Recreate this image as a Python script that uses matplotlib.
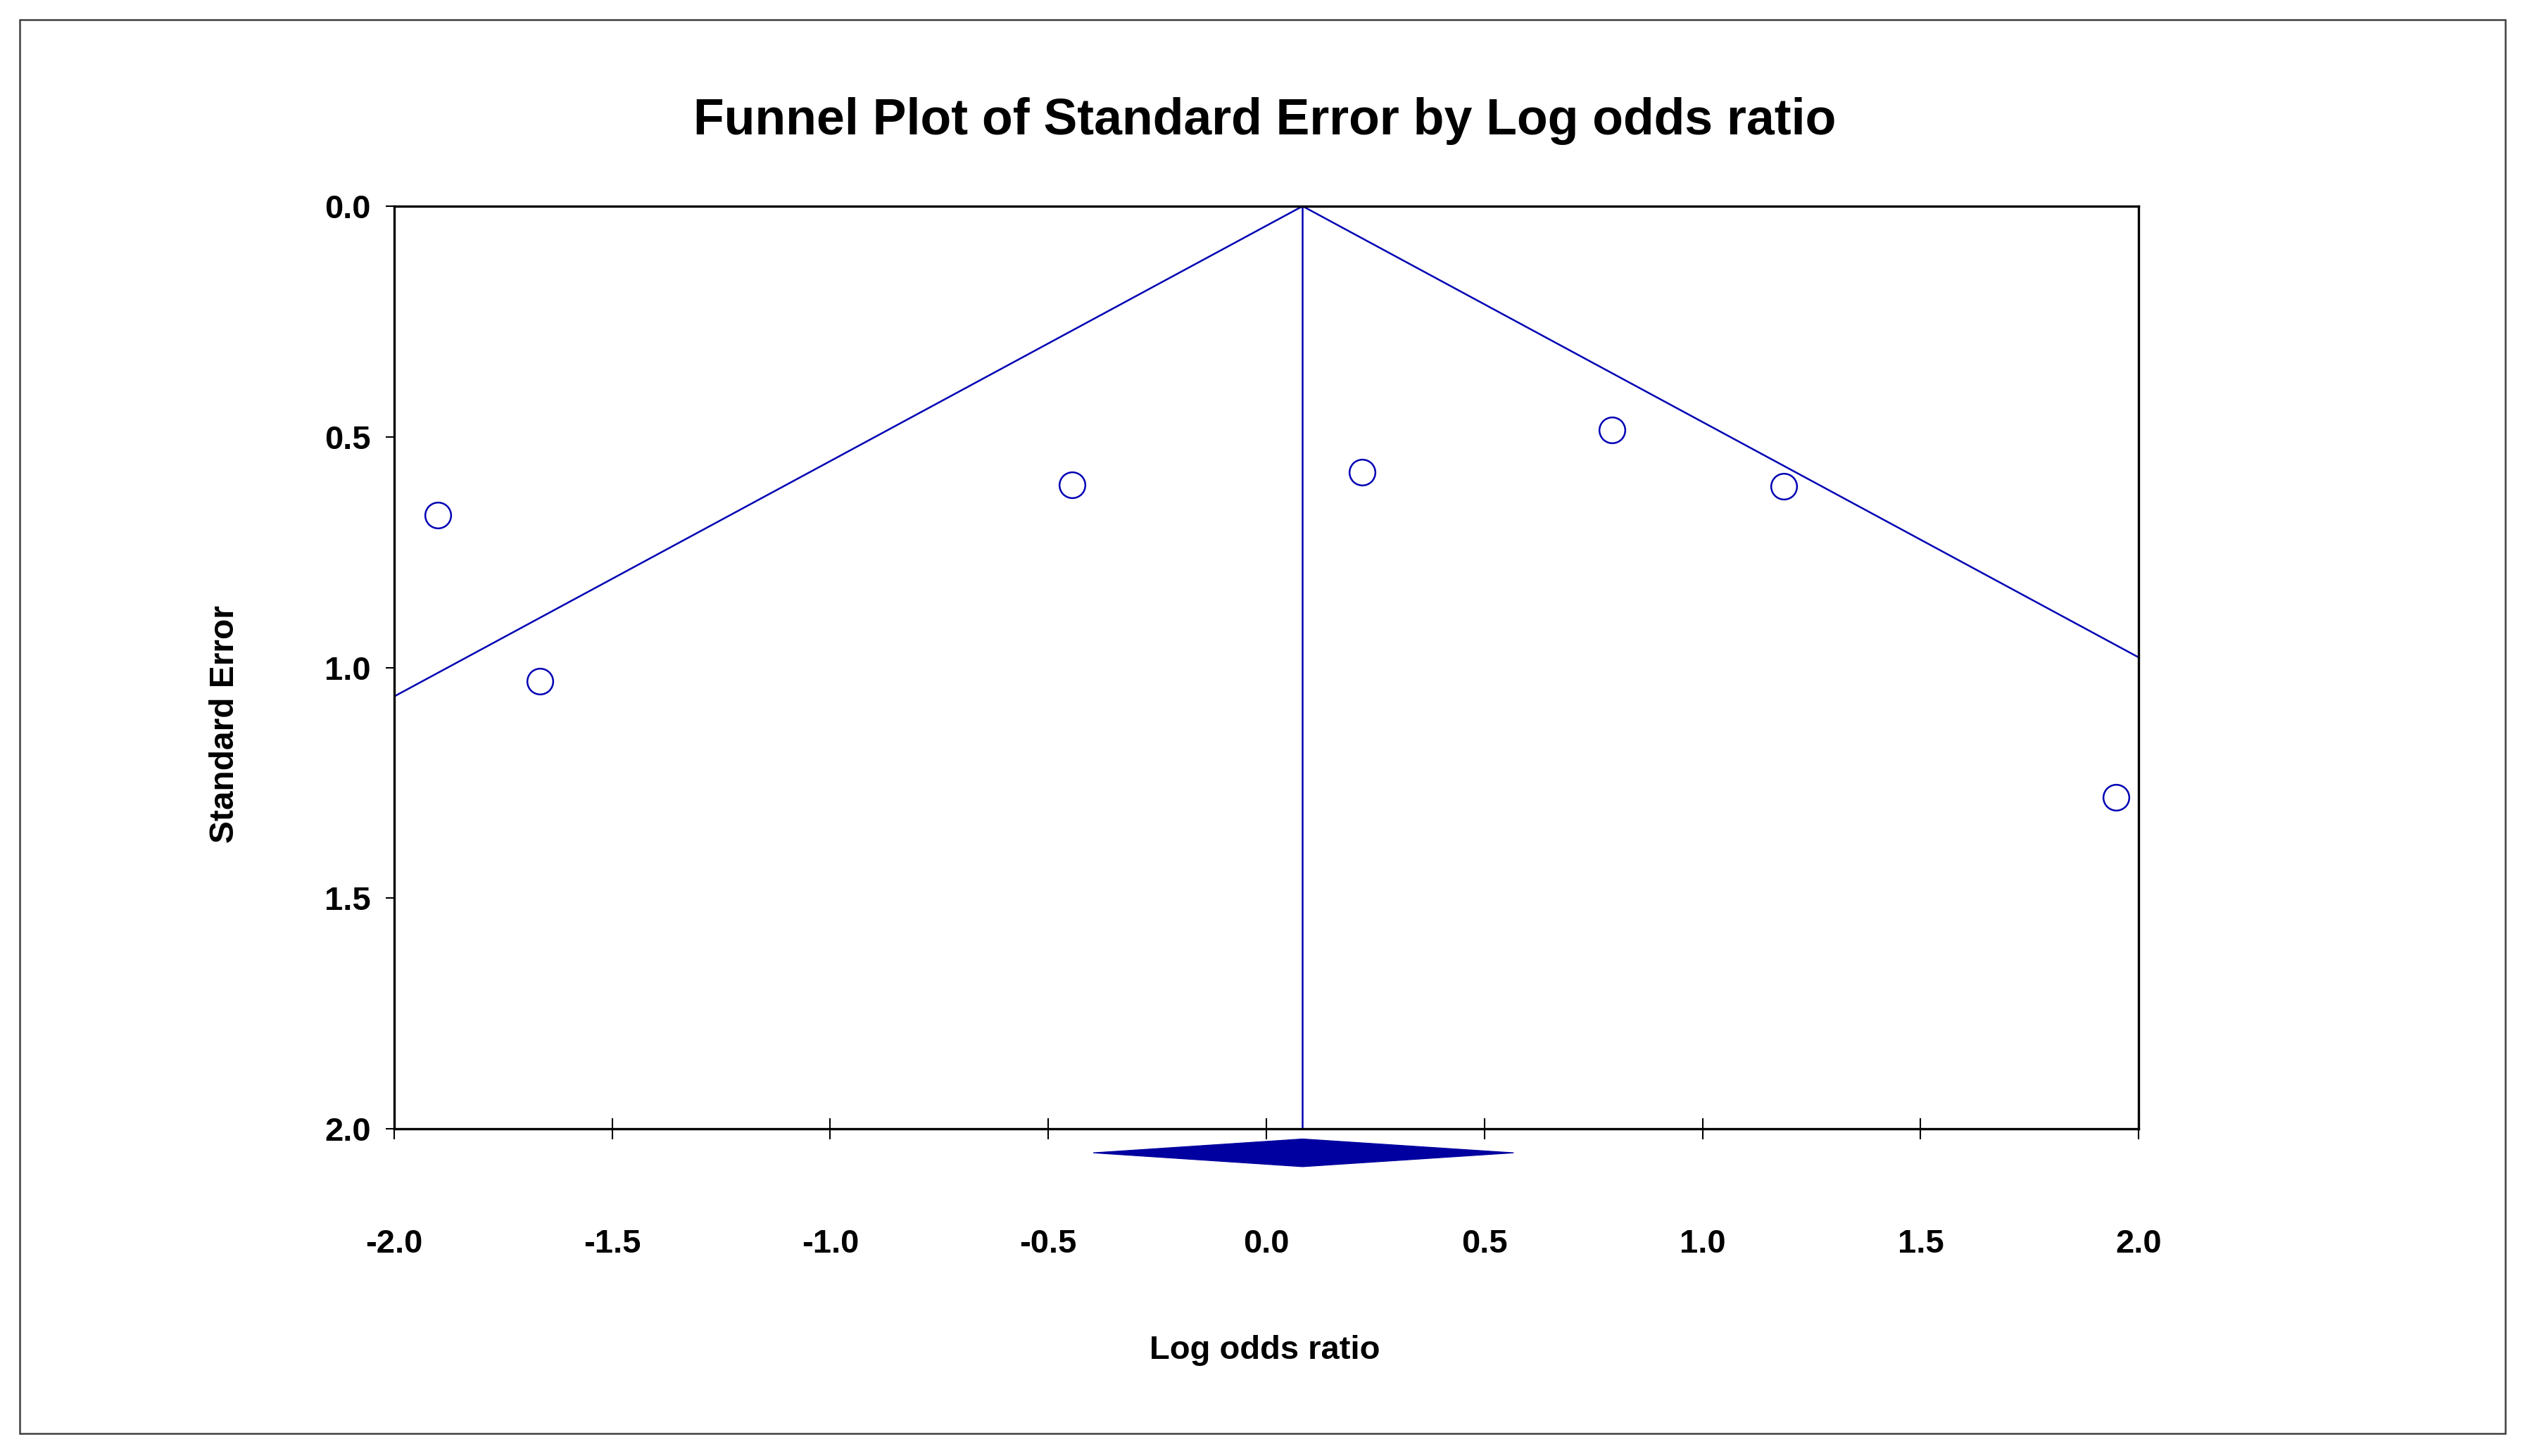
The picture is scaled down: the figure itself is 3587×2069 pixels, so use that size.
import matplotlib.pyplot as plt
from matplotlib.patches import Polygon, Rectangle

plt.rcParams['font.family'] = ['Liberation Sans', 'DejaVu Sans']

# Study estimates
log_odds = [-1.90, -1.665, -0.445, 0.22, 0.792, 1.187, 1.948]
std_err = [0.67, 1.03, 0.604, 0.576, 0.485, 0.607, 1.281]

# Pooled estimate and its confidence interval (diamond)
pooled = 0.083
ci_low = -0.397
ci_high = 0.567

x_ticks = [-2.0, -1.5, -1.0, -0.5, 0.0, 0.5, 1.0, 1.5, 2.0]
y_ticks = [0.0, 0.5, 1.0, 1.5, 2.0]

blue = '#0000B4'

fig = plt.figure(figsize=(3587 / 300, 2069 / 300), dpi=300)
ax = fig.add_axes([0.1561, 0.2247, 0.6909, 0.6337])

# Funnel: pooled +/- 1.96 * SE
se_max = 2.0
ax.plot([pooled - 1.96 * se_max, pooled, pooled + 1.96 * se_max], [se_max, 0, se_max],
        color=blue, linewidth=0.6)
ax.plot([pooled, pooled], [0, se_max], color=blue, linewidth=0.6)

ax.plot(log_odds, std_err, linestyle='none', marker='o', markersize=8.8,
        markerfacecolor='none', markeredgecolor=blue, markeredgewidth=0.6)

# Diamond under the axis
yc, h = 2.052, 0.03
diamond = Polygon([(ci_low, yc), (pooled, yc - h), (ci_high, yc), (pooled, yc + h)],
                  closed=True, facecolor='#0000A0', edgecolor='#0000A0', linewidth=0.3,
                  clip_on=False)
ax.add_patch(diamond)

ax.set_xlim(-2, 2)
ax.set_ylim(2, 0)
ax.set_xticks(x_ticks)
ax.set_yticks(y_ticks)
ax.set_xticklabels([f'{t:.1f}' for t in x_ticks], fontsize=11.3, fontweight='bold')
ax.set_yticklabels([f'{t:.1f}' for t in y_ticks], fontsize=11.3, fontweight='bold')
ax.tick_params(axis='x', direction='inout', length=7, width=0.5, pad=30.5)
ax.tick_params(axis='y', direction='out', length=3, width=0.5, pad=5)
for s in ax.spines.values():
    s.set_linewidth(0.8)

fig.text(0.501, 0.917, 'Funnel Plot of Standard Error by Log odds ratio',
         ha='center', va='center', fontsize=17.2, fontweight='bold')
fig.text(0.501, 0.0724, 'Log odds ratio', ha='center', va='center',
         fontsize=11.3, fontweight='bold')
fig.text(0.0892, 0.5025, 'Standard Error', ha='center', va='center',
         rotation=90, fontsize=11.5, fontweight='bold')

# Outer frame
fig.patches.append(Rectangle((0.0077, 0.0155), 0.9846, 0.9712, transform=fig.transFigure,
                             fill=False, edgecolor='#404040', linewidth=0.6))

fig.savefig('out.png', dpi=300)
